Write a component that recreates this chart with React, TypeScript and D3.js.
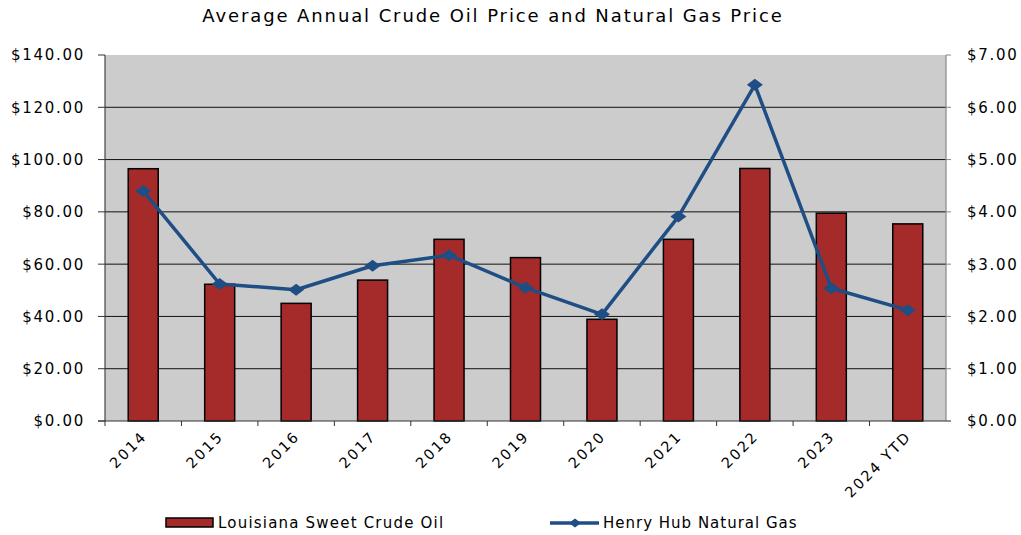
import React from "react";
import * as d3 from "d3";

const categories = ["2014", "2015", "2016", "2017", "2018", "2019", "2020", "2021", "2022", "2023", "2024 YTD"];
const crudeOil = [96.5, 52.3, 45.0, 53.9, 69.5, 62.5, 38.9, 69.5, 96.6, 79.5, 75.4];
const naturalGas = [4.4, 2.62, 2.51, 2.97, 3.17, 2.55, 2.04, 3.91, 6.43, 2.54, 2.12];
const leftTicks = [0, 20, 40, 60, 80, 100, 120, 140];
const rightTicks = [0, 1, 2, 3, 4, 5, 6, 7];
const title = "Average Annual Crude Oil Price and Natural Gas Price";
const seriesNames = ["Louisiana Sweet Crude Oil", "Henry Hub Natural Gas"];

const W = 1021;
const H = 535;
const M = { left: 105, right: 946, top: 55, bottom: 421 };
const FONT = "'DejaVu Sans', sans-serif";
const BAR = "#A52A2A";
const LINE = "#1F4E85";

export default function App() {
  const x = d3.scaleBand().domain(categories).range([M.left, M.right]).paddingInner(0).paddingOuter(0);
  const yL = d3.scaleLinear().domain([0, 140]).range([M.bottom, M.top]);
  const yR = d3.scaleLinear().domain([0, 7]).range([M.bottom, M.top]);
  const bw = 30;
  const cx = (c: string) => (x(c) as number) + x.bandwidth() / 2;
  const line = d3
    .line<number>()
    .x((_, i) => cx(categories[i]))
    .y((d) => yR(d));
  const diamond = (px: number, py: number, rx = 8, ry = 6) =>
    `M${px},${py - ry}L${px + rx},${py}L${px},${py + ry}L${px - rx},${py}Z`;

  return (
    <svg width={W} height={H} style={{ position: "absolute", left: 0, top: 0, background: "#fff" }} fontFamily={FONT}>
      <text x={493} y={22} textAnchor="middle" fontSize={18} letterSpacing={1.9} fill="#000">
        {title}
      </text>
      <rect x={M.left} y={M.top} width={M.right - M.left} height={M.bottom - M.top} fill="#cccccc" />
      {leftTicks.slice(1, -1).map((t) => (
        <line key={t} x1={M.left} x2={M.right} y1={yL(t)} y2={yL(t)} stroke="#111" strokeWidth={1} />
      ))}
      {/* bars */}
      {categories.map((c, i) => (
        <rect
          key={c}
          x={cx(c) - bw / 2}
          y={yL(crudeOil[i])}
          width={bw}
          height={M.bottom - yL(crudeOil[i])}
          fill={BAR}
          stroke="#000"
          strokeWidth={1.5}
        />
      ))}
      {/* axes */}
      <line x1={M.left} x2={M.left} y1={M.top} y2={M.bottom} stroke="#444" strokeWidth={1.2} />
      <line x1={M.right} x2={M.right} y1={M.top} y2={M.bottom} stroke="#888" strokeWidth={1.2} />
      <line x1={M.left - 7} x2={M.right + 5} y1={M.bottom} y2={M.bottom} stroke="#333" strokeWidth={1.2} />
      {leftTicks.map((t) => (
        <g key={t}>
          <line x1={M.left - 7} x2={M.left} y1={yL(t)} y2={yL(t)} stroke="#333" />
          <text x={85} y={yL(t)} dy="0.36em" textAnchor="end" fontSize={15} letterSpacing={1.7} fill="#000">
            {d3.format("$,.2f")(t)}
          </text>
        </g>
      ))}
      {rightTicks.map((t) => (
        <g key={t}>
          <line x1={M.right} x2={M.right + 5} y1={yR(t)} y2={yR(t)} stroke="#888" />
          <text x={967} y={yR(t)} dy="0.36em" textAnchor="start" fontSize={15} letterSpacing={1.7} fill="#000">
            {d3.format("$,.2f")(t)}
          </text>
        </g>
      ))}
      {categories.map((c) => (
        <line key={c} x1={x(c) as number} x2={x(c) as number} y1={M.bottom} y2={M.bottom + 5} stroke="#333" />
      ))}
      {categories.map((c) => (
        <text
          key={c}
          transform={`translate(${cx(c) - 3},${M.bottom + 9}) rotate(-45)`}
          textAnchor="end"
          dy="0.72em"
          fontSize={14.5}
          letterSpacing={2}
          fill="#000"
        >
          {c}
        </text>
      ))}
      {/* line */}
      <path d={line(naturalGas) || ""} fill="none" stroke={LINE} strokeWidth={3.5} strokeLinejoin="round" />
      {naturalGas.map((v, i) => (
        <path key={i} d={diamond(cx(categories[i]), yR(v))} fill={LINE} />
      ))}
      {/* legend */}
      <rect x={166} y={518} width={47} height={9} fill={BAR} stroke="#000" strokeWidth={1.5} />
      <text x={218} y={523} dy="0.36em" fontSize={15} letterSpacing={1.2} fill="#000">
        {seriesNames[0]}
      </text>
      <line x1={550} x2={599} y1={523} y2={523} stroke={LINE} strokeWidth={3.5} />
      <path d={diamond(575, 523, 6, 4.5)} fill={LINE} />
      <text x={603} y={523} dy="0.36em" fontSize={15} letterSpacing={1.0} fill="#000">
        {seriesNames[1]}
      </text>
    </svg>
  );
}
